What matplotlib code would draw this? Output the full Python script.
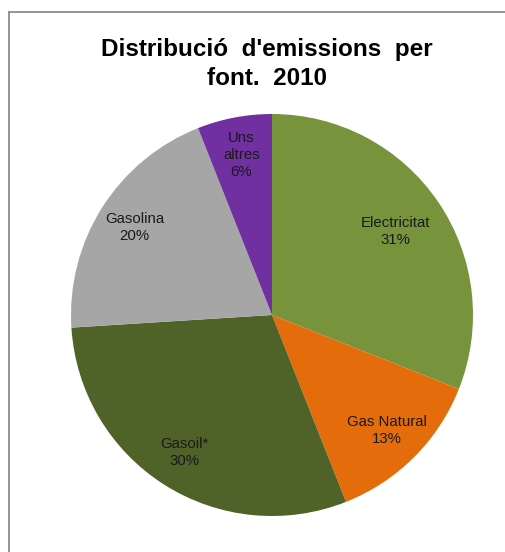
import numpy as np
import matplotlib.pyplot as plt
from matplotlib.lines import Line2D

plt.rcParams['font.family'] = ['Liberation Sans', 'DejaVu Sans']

# data (percent of 2010 emissions)
categories = ['Electricitat', 'Gas Natural', 'Gasoil*', 'Gasolina', 'Uns\naltres']
values = [31, 13, 30, 20, 6]
colors = ['#77933C', '#E46C0A', '#4F6228', '#A6A6A6', '#7030A0']

fig = plt.figure(figsize=(5.06, 5.52), dpi=100)
ax = fig.add_axes([(272 - 201) / 506, 1 - (315 + 201) / 552, 402 / 506, 402 / 552])

wedges = ax.pie(values, colors=colors, startangle=90, counterclock=False,
                radius=1.0, wedgeprops=dict(linewidth=0))[0]

# category + percentage inside each slice
total = sum(values)
for cat, v, w in zip(categories, values, wedges):
    mid = np.deg2rad((w.theta1 + w.theta2) / 2)
    r = 0.74 if cat == 'Electricitat' else 0.81
    ax.text(r * np.cos(mid), r * np.sin(mid), f"{cat}\n{v / total * 100:.0f}%",
            ha='center', va='center', fontsize=10.8, color='#1a1a1a', linespacing=1.28)
ax.set_xlim(-1, 1)
ax.set_ylim(-1, 1)
ax.set_aspect('equal')

fig.text(267 / 506, 1 - 64 / 552, "Distribució  d'emissions  per\nfont.  2010",
         ha='center', va='center', fontsize=17.5, fontweight='bold', linespacing=1.35)

# chart border (runs off the right and bottom edges)
fig.add_artist(Line2D([9.5 / 506, 9.5 / 506], [0, 1 - 11.5 / 552], color='#8c8c8c', lw=1.3))
fig.add_artist(Line2D([9.5 / 506, 1], [1 - 11.5 / 552, 1 - 11.5 / 552], color='#8c8c8c', lw=1.3))

fig.savefig('out.png', dpi=100)
